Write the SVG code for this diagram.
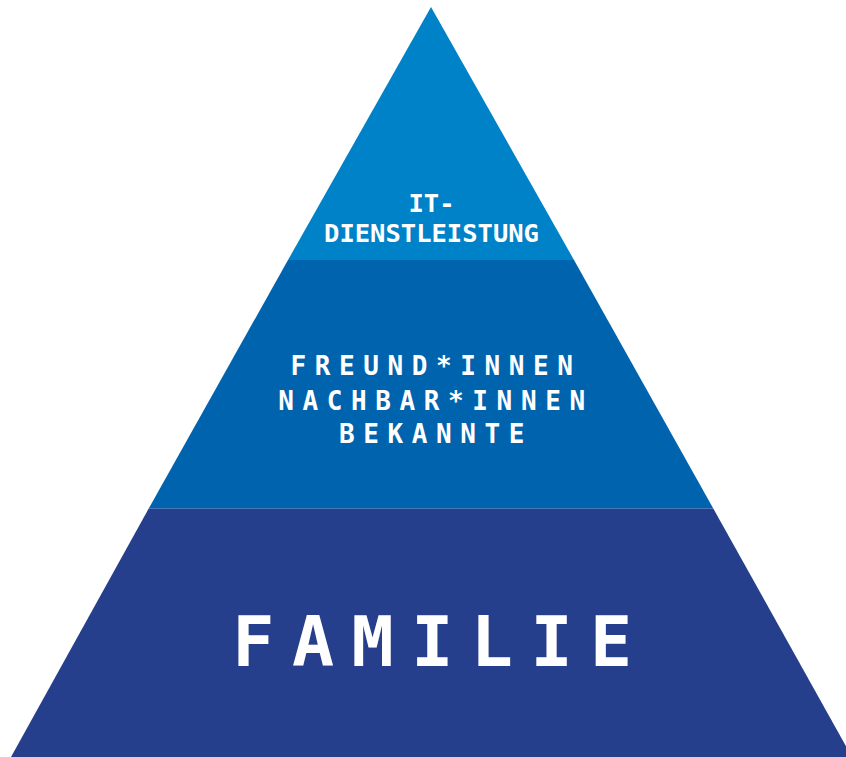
<svg xmlns="http://www.w3.org/2000/svg" width="846" height="757" viewBox="0 0 846 757">
  <style>
    .lbl { font-family: "DejaVu Sans Mono", "Liberation Mono", monospace; font-weight: bold; fill: #ffffff; text-anchor: middle; }
  </style>
  <rect width="846" height="757" fill="#ffffff"/>
  <!-- pyramid tiers, apex at (431,7) -->
  <g id="tier-top">
    <polygon points="431,7 574,260 288,260" fill="#0082C8"/>
    <text class="lbl" x="431.5" y="212" font-size="25.5">IT-</text>
    <text class="lbl" x="431.5" y="242" font-size="25.5">DIENSTLEISTUNG</text>
  </g>
  <g id="tier-middle">
    <polygon points="288,260 574,260 713,508 149,508" fill="#0063AE"/>
    <text class="lbl" x="436" y="375" font-size="26" letter-spacing="8.6">FREUND*INNEN</text>
    <text class="lbl" x="436" y="410" font-size="26" letter-spacing="8.6">NACHBAR*INNEN</text>
    <text class="lbl" x="436" y="443" font-size="26" letter-spacing="8.6">BEKANNTE</text>
  </g>
  <g id="tier-bottom">
    <polygon points="149,508 713,508 852,757 11,757" fill="#263F8C"/>
    <line x1="149" y1="508.5" x2="713" y2="508.5" stroke="#4C78B8" stroke-width="1"/>
    <text class="lbl" x="441" y="666" font-size="70" letter-spacing="17.5">FAMILIE</text>
  </g>
</svg>
